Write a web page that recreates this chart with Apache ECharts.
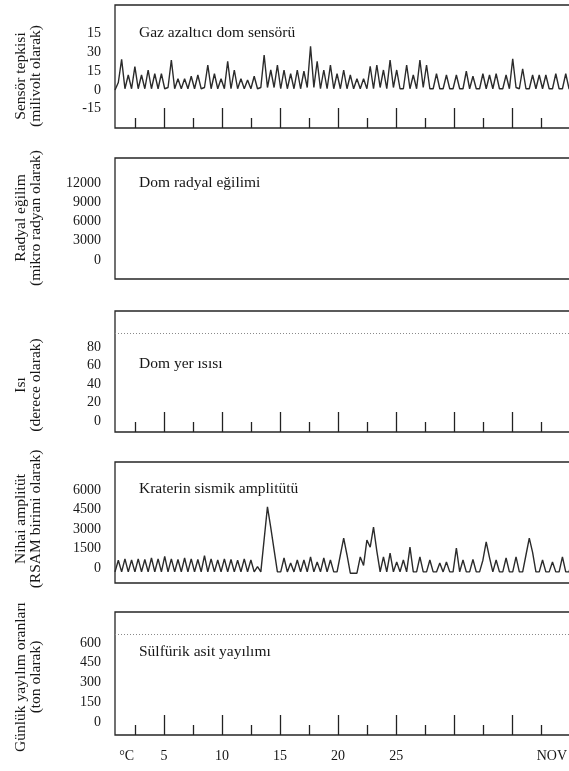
<!DOCTYPE html>
<html>
<head>
<meta charset="utf-8">
<script src="https://cdn.jsdelivr.net/npm/echarts@6/dist/echarts.min.js"></script>
<style>
  html, body { margin: 0; padding: 0; background: #fff; }
  #chart { width: 569px; height: 771px; }
</style>
</head>
<body>
<div id="chart"></div>
<script>
// gün ekseni (alt)
const longTickDays = [5, 10, 15, 20, 25, 30, 35]
const shortTickDays = [2.5, 7.5, 12.5, 17.5, 22.5, 27.5, 32.5, 37.5]
const xLabelDays = [1.8, 5, 10, 15, 20, 25, 38.4]
const xLabelTexts = ['°C', '5', '10', '15', '20', '25', 'NOV']

const panelTitles = ['Gaz azaltıcı dom sensörü', 'Dom radyal eğilimi', 'Dom yer ısısı', 'Kraterin sismik amplitütü', 'Sülfürik asit yayılımı']
const axisTitles = [
  ['Sensör tepkisi', '(milivolt olarak)'],
  ['Radyal eğilim', '(mikro radyan olarak)'],
  ['Isı', '(derece olarak)'],
  ['Nihai amplitüt', '(RSAM birimi olarak)'],
  ['Günlük yayılım oranları', '(ton olarak)']
]

// y eksen etiketleri
const gasTickValues = [-15, 0, 15, 30, 45]
const gasTickLabels = ['-15', '0', '15', '30', '15']
const tiltTickValues = [0, 3000, 6000, 9000, 12000]
const heatTickValues = [0, 20, 40, 60, 80]
const rsamTickValues = [0, 1500, 3000, 4500, 6000]
const sulfurTickValues = [0, 150, 300, 450, 600]

// noktalı referans çizgileri
const heatRefLine = 95
const sulfurRefLine = 668

// gaz sensörü (milivolt)
const gasValues = [
  0, 6, 24.5, 1, 12, 1, 18.7, 1, 12, 1,
  16, 1, 13, 1, 13, 1, 2, 24, 1, 9,
  1, 9, 1, 11, 1, 12, 1, 2, 20, 1,
  13, 1, 9, 1, 23, 1, 16, 1, 9, 1,
  8, 1, 11, 1, 2, 28, 2, 16, 2, 20,
  1, 16, 1, 13, 1, 16, 1, 15, 2, 35,
  2, 23, 1, 16, 1, 20, 1, 13, 1, 16,
  1, 12, 1, 9, 1, 9, 1, 19, 1, 20,
  2, 16, 1, 24, 2, 16, 1, 1, 20, 1,
  12, 1, 24, 2, 20, 1, 1, 13, 1, 1,
  12, 1, 1, 12, 1, 1, 15, 1, 11, 1,
  1, 13, 1, 12, 1, 13, 1, 1, 12, 1,
  25, 2, 1, 17, 1, 1, 12, 1, 12, 1,
  12, 1, 1, 13, 1, 1, 13, 1, 1, 12,
  3
]

// sismik amplitüt (RSAM)
const rsamValues = [
  -300, 600, -300, 700, -300, 620, -300, 700, -300, 650,
  -300, 770, -300, 700, -300, 900, -300, 700, -300, 650,
  -300, 770, -300, 700, -300, 650, -300, 950, -300, 700,
  -300, 620, -300, 700, -300, 650, -300, 600, -300, 700,
  -300, 620, -300, 100, -300, 2200, 4700, 3100, 1400, -300,
  -300, 770, -300, 385, -300, 616, -300, 616, -300, 850,
  -300, 460, -300, 770, -300, 616, -300, -300, 1000, 2300,
  1000, -400, -400, -400, 850, 200, 2150, 1600, 3150, 1300,
  -300, 850, -300, 1150, -300, 460, -300, 616, -300, 1600,
  -300, -300, 850, -300, -300, 616, -300, -300, 385, -300,
  460, -300, -300, 1540, -300, 616, -300, -300, 650, -300,
  -300, 600, 2000, 800, -300, 616, -300, -300, 770, -300,
  -300, 850, -300, -300, 1000, 2300, 1200, -300, -300, 616,
  -300, -300, 460, -300, -300, 850, -300, -300, 700, -300,
  -200
]

const font = 'Liberation Serif'
const ink = '#161616'

var chart = echarts.init(document.getElementById('chart'))

// panel yerleşimi
const panels = [
  { top: 5, height: 123, yMin: -30.4, yMax: 68, ticks: gasTickValues, titleY: 33, nameY: 76, showTicks: true },
  { top: 158, height: 121, yMin: -2961, yMax: 15896, ticks: tiltTickValues, titleY: 183, nameY: 218, showTicks: false },
  { top: 311, height: 121, yMin: -11.9, yMax: 118.9, ticks: heatTickValues, titleY: 364, nameY: 385, showTicks: true },
  { top: 462, height: 121, yMin: -1154, yMax: 8154, ticks: rsamTickValues, titleY: 489, nameY: 519, showTicks: false },
  { top: 612, height: 123, yMin: -98.7, yMax: 835, ticks: sulfurTickValues, titleY: 652, nameY: 677, showTicks: true }
]

const labelStyle = { fontFamily: font, fontSize: 14, color: ink }

var grids = []
var xAxes = []
var yAxes = []
var graphics = []
var dayAxisIndex = []

panels.forEach((p, k) => {
  grids.push({
    left: 115,
    right: -10,
    top: p.top,
    height: p.height,
    show: true,
    borderColor: '#262626',
    borderWidth: 1.3,
    outerBoundsMode: 'none'
  })

  // uzun çentikler + etiketler
  dayAxisIndex.push(xAxes.length)
  xAxes.push({
    gridIndex: k,
    type: 'value',
    min: 0.79,
    max: 40.74,
    position: 'bottom',
    axisLine: { show: false, onZero: false },
    splitLine: { show: false },
    axisTick: {
      show: p.showTicks,
      inside: true,
      length: 20,
      customValues: longTickDays,
      lineStyle: { color: '#222', width: 1.3 }
    },
    axisLabel: {
      show: k === 4,
      customValues: xLabelDays,
      margin: 14,
      formatter: function (v) {
        let i = xLabelDays.findIndex(d => Math.abs(d - v) < 1e-6)
        return i >= 0 ? xLabelTexts[i] : ''
      },
      ...labelStyle
    }
  })
  // kısa çentikler
  xAxes.push({
    gridIndex: k,
    type: 'value',
    min: 0.79,
    max: 40.74,
    position: 'bottom',
    axisLine: { show: false, onZero: false },
    splitLine: { show: false },
    axisTick: {
      show: p.showTicks,
      inside: true,
      length: 10,
      customValues: shortTickDays,
      lineStyle: { color: '#222', width: 1.3 }
    },
    axisLabel: { show: false }
  })

  yAxes.push({
    gridIndex: k,
    type: 'value',
    min: p.yMin,
    max: p.yMax,
    axisLine: { show: false, onZero: false },
    axisTick: { show: false },
    splitLine: { show: false },
    axisLabel: {
      customValues: p.ticks,
      margin: 14,
      formatter: function (v) {
        if (k === 0) {
          let i = gasTickValues.indexOf(v)
          return i >= 0 ? gasTickLabels[i] : ''
        }
        return String(v)
      },
      ...labelStyle
    }
  })

  graphics.push({
    type: 'text',
    x: 139,
    y: p.titleY,
    style: {
      text: panelTitles[k],
      font: '15.5px "Liberation Serif"',
      fill: ink,
      verticalAlign: 'middle'
    }
  })
  graphics.push({
    type: 'text',
    x: 28,
    y: p.nameY,
    rotation: Math.PI / 2,
    style: {
      text: axisTitles[k].join('\n'),
      font: '15.5px "Liberation Serif"',
      fill: ink,
      align: 'center',
      verticalAlign: 'middle',
      lineHeight: 15
    }
  })
})

// çizgi serileri için gizli kategori eksenleri
const gasAxis = xAxes.length
xAxes.push({ gridIndex: 0, type: 'category', boundaryGap: false, show: false, position: 'top', axisLine: { onZero: false }, data: gasValues.map((v, i) => i) })
const rsamAxis = xAxes.length
xAxes.push({ gridIndex: 3, type: 'category', boundaryGap: false, show: false, position: 'top', axisLine: { onZero: false }, data: rsamValues.map((v, i) => i) })

function refLine(k, value) {
  return {
    type: 'line',
    xAxisIndex: dayAxisIndex[k],
    yAxisIndex: k,
    data: [],
    markLine: {
      silent: true,
      symbol: ['none', 'none'],
      label: { show: false },
      lineStyle: { type: [1, 2], color: '#8a8a8a', width: 1 },
      data: [{ yAxis: value }]
    }
  }
}

var option = {
  animation: false,
  backgroundColor: '#fff',
  grid: grids,
  xAxis: xAxes,
  yAxis: yAxes,
  graphic: graphics,
  series: [
    {
      type: 'line',
      xAxisIndex: gasAxis,
      yAxisIndex: 0,
      data: gasValues,
      symbol: 'none',
      lineStyle: { color: '#2b2b2b', width: 1.4 }
    },
    {
      type: 'line',
      xAxisIndex: rsamAxis,
      yAxisIndex: 3,
      data: rsamValues,
      symbol: 'none',
      lineStyle: { color: '#2b2b2b', width: 1.4 }
    },
    refLine(2, heatRefLine),
    refLine(4, sulfurRefLine)
  ]
}
chart.setOption(option)
</script>
</body>
</html>
